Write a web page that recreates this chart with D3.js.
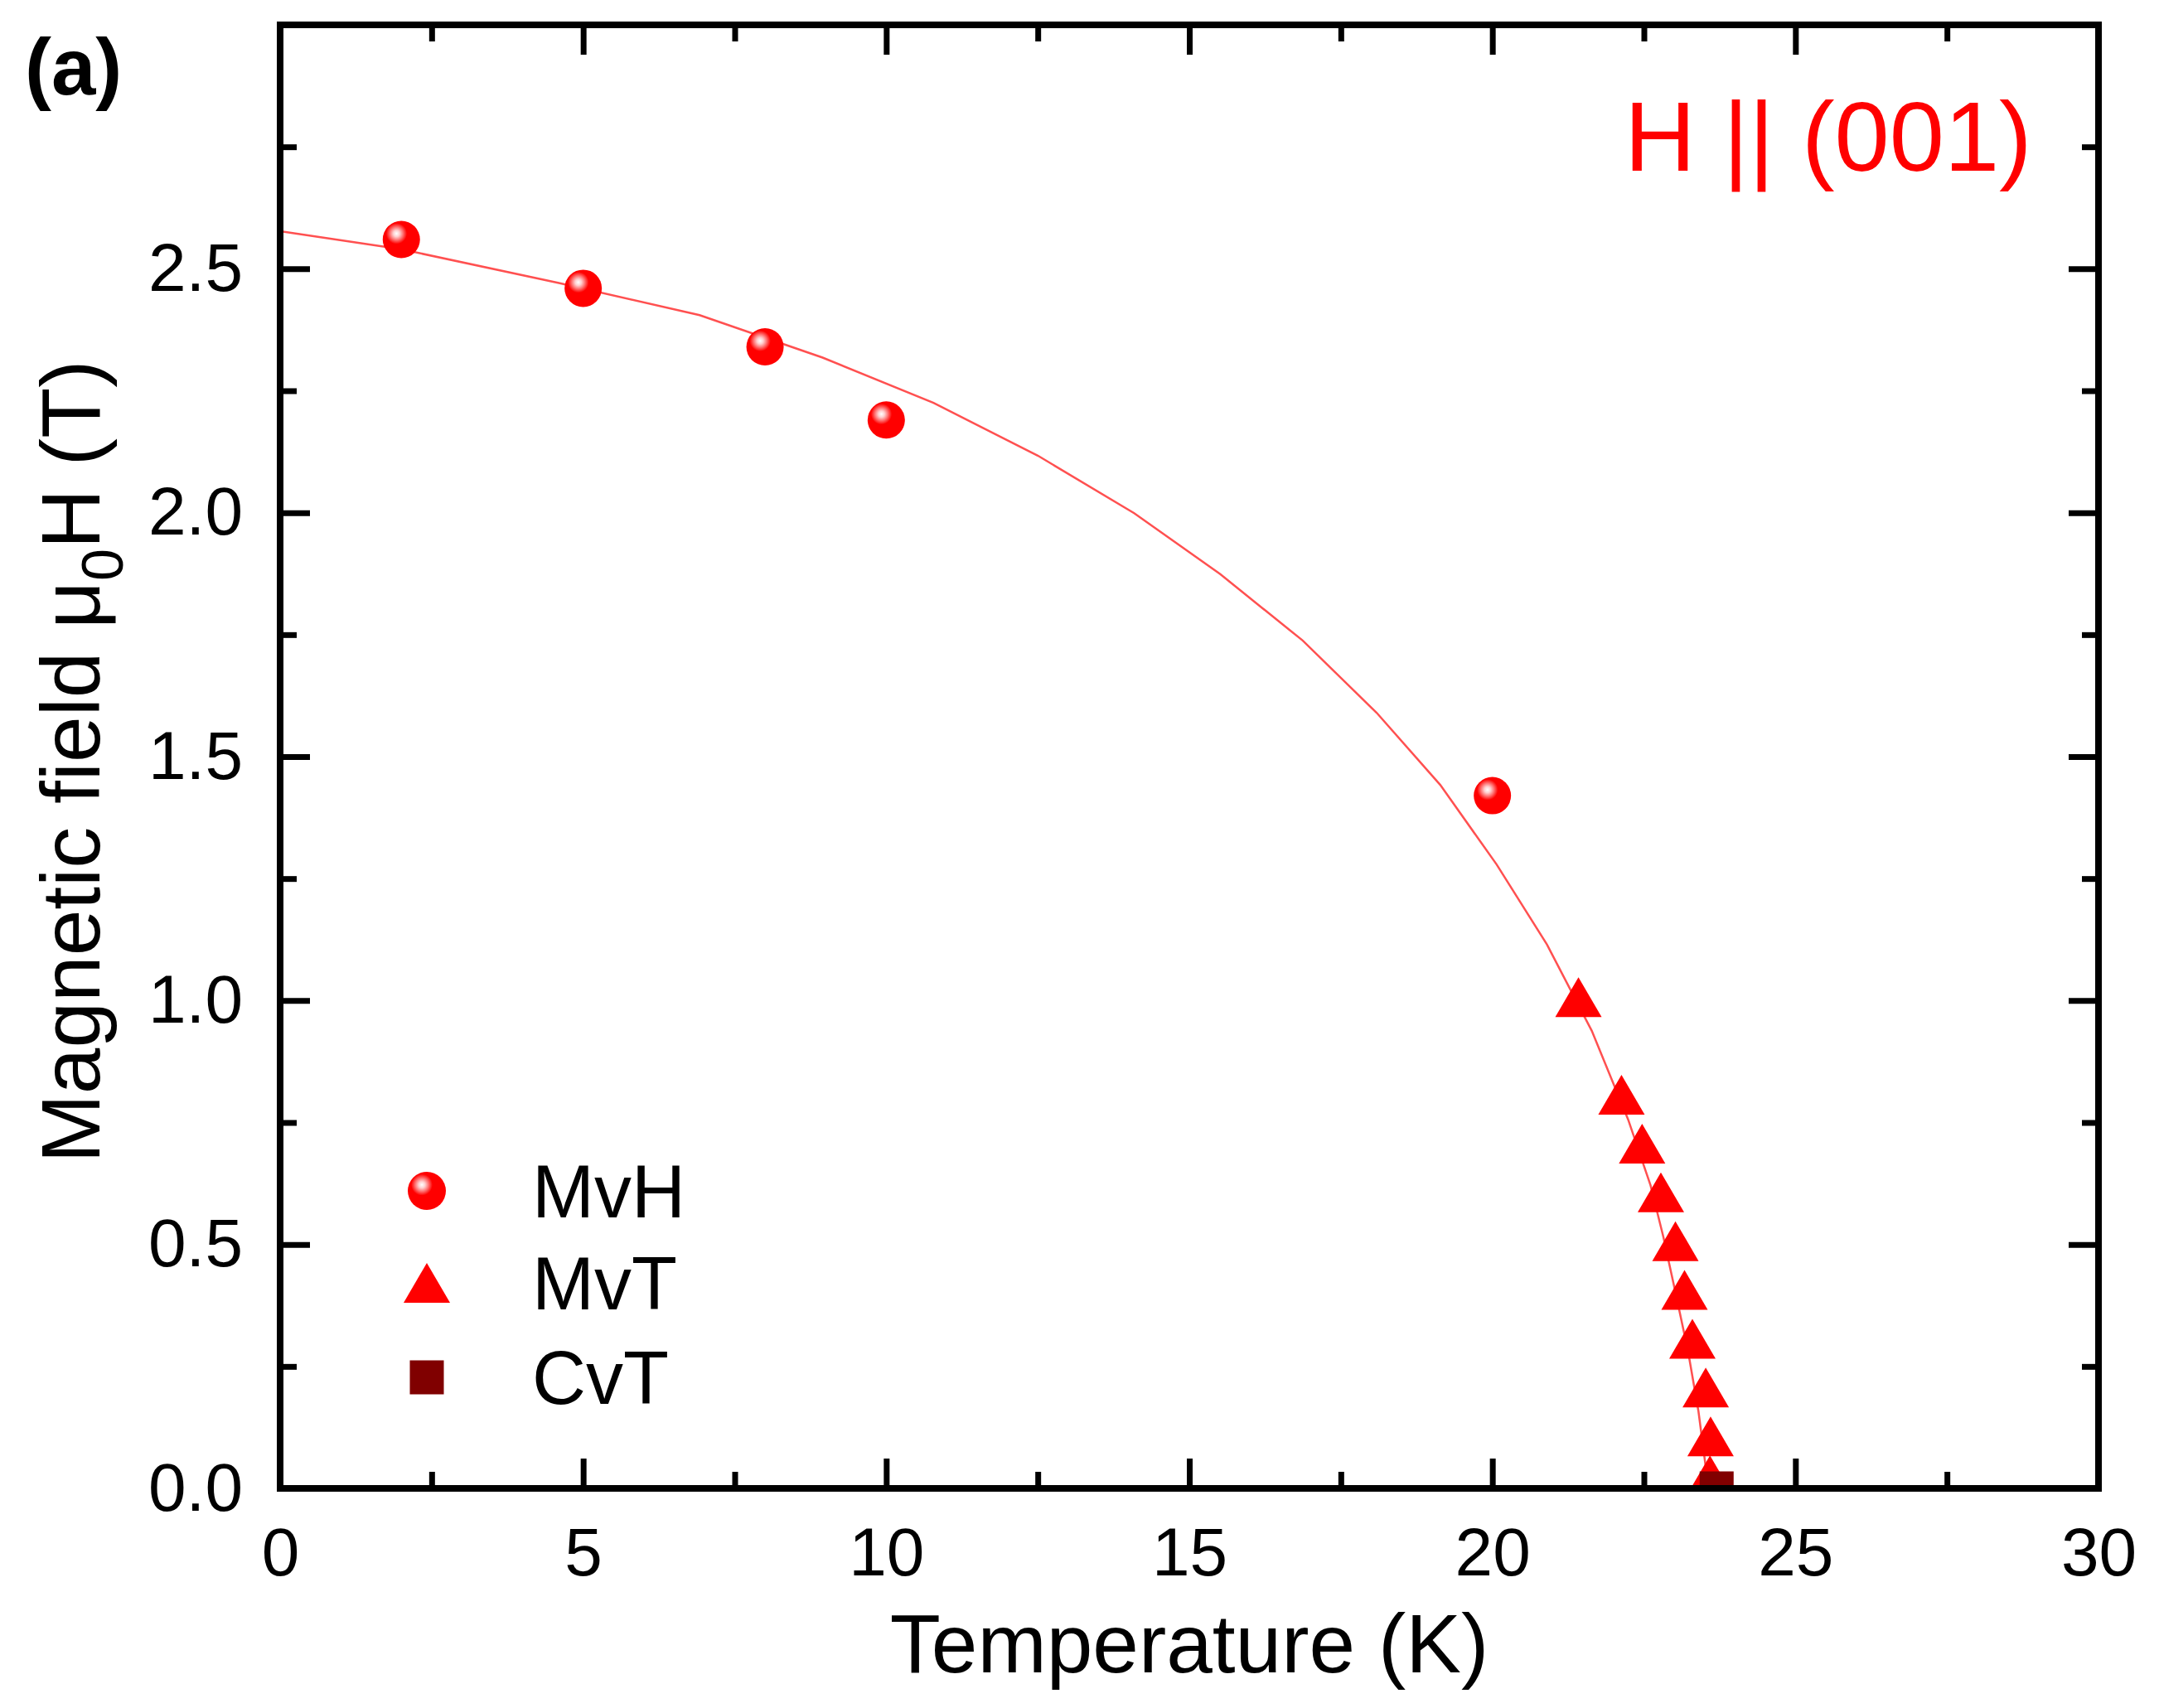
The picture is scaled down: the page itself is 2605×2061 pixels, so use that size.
<!DOCTYPE html>
<html>
<head>
<meta charset="utf-8">
<script src="https://cdn.jsdelivr.net/npm/d3@7"></script>
<style>
  body { margin: 0; background: #fff; }
  text { font-family: "Liberation Sans", Arial, sans-serif; }
</style>
</head>
<body>
<svg id="svg"></svg>
<script>
// data
var mvhT = [2, 5, 8, 10, 20];
var mvhH = [2.56, 2.46, 2.34, 2.19, 1.42];

var mvtT = [21.42, 22.13, 22.47, 22.78, 23.02, 23.17, 23.30, 23.52, 23.60, 23.59];
var mvtH = [1.0, 0.8, 0.7, 0.6, 0.5, 0.4, 0.3, 0.2, 0.1, 0.02];

var cvtT = [23.7];
var cvtH = [0.0];

// fitted phase boundary (polyline as drawn)
var fitT = [0, 2.0, 4.6, 6.92, 8.95, 10.78, 12.5, 14.09, 15.51, 16.87, 18.09, 19.14,
            20.07, 20.90, 21.64, 22.24, 22.61, 22.82, 23.02, 23.23, 23.40, 23.52, 23.55];
var fitH = [2.577, 2.540, 2.471, 2.405, 2.318, 2.225, 2.117, 1.999, 1.874, 1.738, 1.590, 1.442,
            1.279, 1.115, 0.938, 0.756, 0.621, 0.516, 0.402, 0.280, 0.158, 0.044, 0.0];

var xMajor = [0, 5, 10, 15, 20, 25, 30];
var xMinor = [2.5, 7.5, 12.5, 17.5, 22.5, 27.5];
var yMajor = [0, 0.5, 1.0, 1.5, 2.0, 2.5, 3.0];
var yMinor = [0.25, 0.75, 1.25, 1.75, 2.25, 2.75];

var legendNames = ["MvH", "MvT", "CvT"];

//////////////////////////////////////////////////////////////////////////////

var width = 2605, height = 2061;
var pLeft = 338, pRight = 2532, pTop = 30, pBottom = 1796;

var svg = d3.select("#svg").attr("width", width).attr("height", height);
svg.append("rect").attr("width", width).attr("height", height).attr("fill", "#fff");

var x = d3.scaleLinear().domain([0, 30]).range([pLeft, pRight]);
var y = d3.scaleLinear().domain([0, 3]).range([pBottom, pTop]);

var defs = svg.append("defs");
var grad = defs.append("radialGradient").attr("id", "ball")
    .attr("cx", 0.37).attr("cy", 0.34).attr("r", 0.28);
grad.append("stop").attr("offset", "0").attr("stop-color", "#ffffff");
grad.append("stop").attr("offset", "0.3").attr("stop-color", "#ffd0d0");
grad.append("stop").attr("offset", "0.6").attr("stop-color", "#ff7a7a");
grad.append("stop").attr("offset", "1").attr("stop-color", "#ff0000");

defs.append("clipPath").attr("id", "plotClip")
    .append("rect").attr("x", pLeft).attr("y", pTop)
    .attr("width", pRight - pLeft).attr("height", pBottom - pTop);

// axes (ticks pointing inward)
function styleAxis(g) {
    g.select(".domain").remove();
    g.selectAll(".tick line").attr("stroke", "#000").attr("stroke-width", 7);
    g.selectAll(".tick text").attr("fill", "#000")
        .style("font-family", "'Liberation Sans', Arial, sans-serif")
        .attr("font-size", 82);
}

svg.append("g").attr("transform", "translate(0," + pBottom + ")")
    .call(d3.axisBottom(x).tickValues(xMajor).tickSize(-36).tickPadding(47).tickFormat(d3.format("d")))
    .call(styleAxis);
svg.append("g").attr("transform", "translate(0," + pBottom + ")")
    .call(d3.axisBottom(x).tickValues(xMinor).tickSize(-20).tickFormat(""))
    .call(styleAxis);
svg.append("g").attr("transform", "translate(0," + pTop + ")")
    .call(d3.axisTop(x).tickValues(xMajor).tickSize(-36).tickFormat(""))
    .call(styleAxis);
svg.append("g").attr("transform", "translate(0," + pTop + ")")
    .call(d3.axisTop(x).tickValues(xMinor).tickSize(-20).tickFormat(""))
    .call(styleAxis);

svg.append("g").attr("transform", "translate(" + pLeft + ",0)")
    .call(d3.axisLeft(y).tickValues(yMajor.slice(0, 6)).tickSize(-36).tickPadding(45).tickFormat(d3.format(".1f")))
    .call(styleAxis);
svg.append("g").attr("transform", "translate(" + pLeft + ",0)")
    .call(d3.axisLeft(y).tickValues(yMinor).tickSize(-20).tickFormat(""))
    .call(styleAxis);
svg.append("g").attr("transform", "translate(" + pRight + ",0)")
    .call(d3.axisRight(y).tickValues(yMajor).tickSize(-36).tickFormat(""))
    .call(styleAxis);
svg.append("g").attr("transform", "translate(" + pRight + ",0)")
    .call(d3.axisRight(y).tickValues(yMinor).tickSize(-20).tickFormat(""))
    .call(styleAxis);

// fit line
var fitData = fitT.map(function(t, i) { return [t, fitH[i]]; });
var plot = svg.append("g").attr("clip-path", "url(#plotClip)");

plot.append("path").datum(fitData)
    .attr("fill", "none").attr("stroke", "#ff5050").attr("stroke-width", 2.5)
    .attr("d", d3.line().x(function(d) { return x(d[0]); }).y(function(d) { return y(d[1]); }));

// markers
var triPath = "M0,-28L28,20L-28,20Z";

plot.selectAll(".mvt").data(mvtT.map(function(t, i) { return [t, mvtH[i]]; }))
    .enter().append("path").attr("class", "mvt")
    .attr("d", triPath).attr("fill", "#ff0000")
    .attr("transform", function(d) { return "translate(" + x(d[0]) + "," + y(d[1]) + ")"; });

plot.selectAll(".cvt").data(cvtT.map(function(t, i) { return [t, cvtH[i]]; }))
    .enter().append("rect").attr("class", "cvt")
    .attr("x", function(d) { return x(d[0]) - 20.5; })
    .attr("y", function(d) { return y(d[1]) - 20.5; })
    .attr("width", 41).attr("height", 41).attr("fill", "#800000");

plot.selectAll(".mvh").data(mvhT.map(function(t, i) { return [t, mvhH[i]]; }))
    .enter().append("circle").attr("class", "mvh")
    .attr("cx", function(d) { return x(d[0]); })
    .attr("cy", function(d) { return y(d[1]); })
    .attr("r", 22.5).attr("fill", "url(#ball)");

// frame
svg.append("rect").attr("x", pLeft).attr("y", pTop)
    .attr("width", pRight - pLeft).attr("height", pBottom - pTop)
    .attr("fill", "none").attr("stroke", "#000").attr("stroke-width", 8);

// axis titles
svg.append("text").attr("x", (pLeft + pRight) / 2).attr("y", 2018)
    .attr("text-anchor", "middle").attr("font-size", 100).attr("fill", "#000")
    .text("Temperature (K)");

var yt = svg.append("text").attr("transform", "translate(120,919) rotate(-90)")
    .attr("text-anchor", "middle").attr("font-size", 100).attr("fill", "#000");
yt.append("tspan").text("Magnetic field \u03bc");
yt.append("tspan").attr("font-size", 70).attr("dy", 28).text("0");
yt.append("tspan").attr("dy", -28).text("H (T)");

// panel label and annotation
svg.append("text").attr("x", 30).attr("y", 114)
    .attr("font-size", 96).attr("font-weight", "bold").attr("fill", "#000")
    .text("(a)");

svg.append("text").attr("x", 1960).attr("y", 206)
    .attr("font-size", 119).attr("fill", "#ff0000")
    .text("H || (001)");

// legend
var legendY = [1437, 1548, 1662];
var lg = svg.append("g");
lg.append("circle").attr("cx", 515).attr("cy", legendY[0]).attr("r", 23).attr("fill", "url(#ball)");
lg.append("path").attr("d", triPath).attr("fill", "#ff0000")
    .attr("transform", "translate(515," + (legendY[1] + 4) + ")");
lg.append("rect").attr("x", 515 - 20.5).attr("y", legendY[2] - 20.5)
    .attr("width", 41).attr("height", 41).attr("fill", "#800000");

lg.selectAll(".ltext").data(legendNames).enter().append("text")
    .attr("x", 642).attr("y", function(d, i) { return legendY[i] + 32; })
    .attr("font-size", 90).attr("fill", "#000")
    .text(function(d) { return d; });
</script>
</body>
</html>
